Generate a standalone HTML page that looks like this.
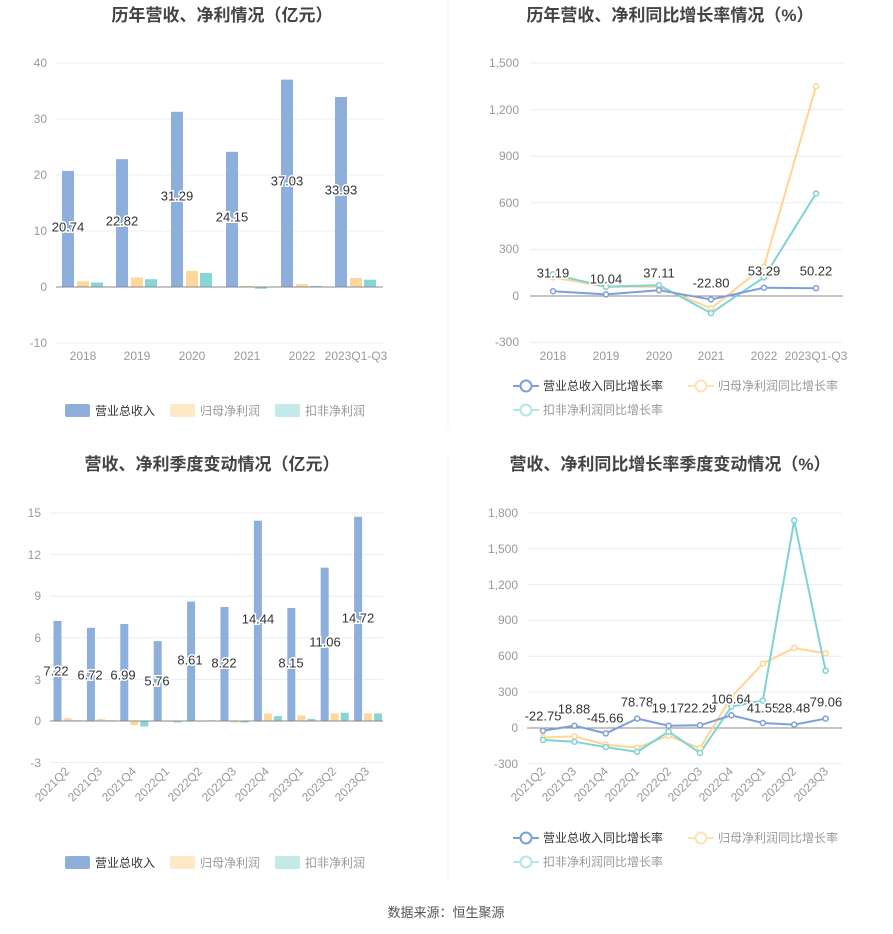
<!DOCTYPE html>
<html><head><meta charset="utf-8"><style>
body{margin:0;background:#fff;}
svg{display:block;font-family:"Liberation Sans","Noto Sans CJK SC",sans-serif;}
.t{font-size:17px;font-weight:bold;fill:#444;text-anchor:middle}
.ax{font-size:12px;fill:#999}
.g{stroke:#e8edf5;stroke-width:1}
.lb{font-size:13px;fill:#333;text-anchor:middle;stroke:#fff;stroke-width:3px;paint-order:stroke;dominant-baseline:middle}
.lg{font-size:12px;fill:#999}
</style></head><body>
<svg width="893" height="934" viewBox="0 0 893 934">
<line x1="448" y1="0" x2="448" y2="430" stroke="#f0f0f0"/>
<line x1="448" y1="455" x2="448" y2="880" stroke="#f0f0f0"/>
<!-- TL -->
<text class="t" x="222" y="21">历年营收、净利情况（亿元）</text>
<g class="g"><line x1="56" x2="383" y1="63" y2="63"/><line x1="56" x2="383" y1="119" y2="119"/><line x1="56" x2="383" y1="175" y2="175"/><line x1="56" x2="383" y1="231" y2="231"/><line x1="56" x2="383" y1="343" y2="343"/></g>
<g class="ax" text-anchor="end"><text x="47" y="67">40</text><text x="47" y="123">30</text><text x="47" y="179">20</text><text x="47" y="235">10</text><text x="47" y="291">0</text><text x="47" y="347">-10</text></g>
<g fill="#8eaedc"><rect x="62" y="170.9" width="12" height="116.1"/><rect x="116" y="159.2" width="12" height="127.8"/><rect x="171" y="111.8" width="12" height="175.2"/><rect x="226" y="151.8" width="12" height="135.2"/><rect x="281" y="79.6" width="12" height="207.4"/><rect x="335" y="97" width="12" height="190"/></g>
<g fill="#fdd89a"><rect x="77" y="281.4" width="12" height="5.6"/><rect x="131" y="277.5" width="12" height="9.5"/><rect x="186" y="270.8" width="12" height="16.2"/><rect x="241" y="285.9" width="12" height="1.1"/><rect x="296" y="284.2" width="12" height="2.8"/><rect x="350" y="278" width="12" height="9"/></g>
<g fill="#86d6d6"><rect x="91" y="282.5" width="12" height="4.5"/><rect x="145" y="279.2" width="12" height="7.8"/><rect x="200" y="273" width="12" height="14"/><rect x="255" y="287" width="12" height="1.7"/><rect x="310" y="285.9" width="12" height="1.1"/><rect x="364" y="279.7" width="12" height="7.3"/></g>
<line x1="56" x2="383" y1="287" y2="287" stroke="#888"/>
<g class="lb"><text x="68" y="228">20.74</text><text x="122" y="222">22.82</text><text x="177" y="197">31.29</text><text x="232" y="218">24.15</text><text x="287" y="182">37.03</text><text x="341" y="191">33.93</text></g>
<g class="ax" text-anchor="middle"><text x="83" y="360">2018</text><text x="137" y="360">2019</text><text x="192" y="360">2020</text><text x="247" y="360">2021</text><text x="302" y="360">2022</text><text x="356" y="360">2023Q1-Q3</text></g>
<rect x="65" y="404" width="25" height="13" rx="2" fill="#8eaedc"/><text class="lg" x="95" y="415" style="fill:#333">营业总收入</text>
<rect x="170" y="404" width="25" height="13" rx="2" fill="#fde9c8"/><text class="lg" x="200" y="415">归母净利润</text>
<rect x="275" y="404" width="25" height="13" rx="2" fill="#c3e9e9"/><text class="lg" x="305" y="415">扣非净利润</text>
<!-- TR -->
<text class="t" x="670" y="21">历年营收、净利同比增长率情况（%）</text>
<g class="g"><line x1="530" x2="843" y1="63" y2="63"/><line x1="530" x2="843" y1="109.6" y2="109.6"/><line x1="530" x2="843" y1="156.2" y2="156.2"/><line x1="530" x2="843" y1="202.8" y2="202.8"/><line x1="530" x2="843" y1="249.4" y2="249.4"/><line x1="530" x2="843" y1="342.6" y2="342.6"/></g>
<line x1="530" x2="843" y1="296" y2="296" stroke="#888"/>
<g class="ax" text-anchor="end"><text x="519" y="67">1,500</text><text x="519" y="114">1,200</text><text x="519" y="160">900</text><text x="519" y="207">600</text><text x="519" y="253">300</text><text x="519" y="300">0</text><text x="519" y="346">-300</text></g>
<polyline fill="none" stroke="#ffd591" stroke-width="2" points="553,277.4 606,286.7 659,286.7 711,308.4 764,266.5 816,86.3"/>
<polyline fill="none" stroke="#7dd3d5" stroke-width="2" points="553,274.3 606,286.7 659,285.1 711,313.1 764,277.4 816,193.5"/>
<polyline fill="none" stroke="#7f9fdc" stroke-width="2" points="553,291.2 606,294.4 659,290.2 711,299.5 764,287.7 816,288.2"/>
<g fill="#fff" stroke-width="1.5"><g stroke="#ffd591"><circle cx="553" cy="277.4" r="2.5"/><circle cx="606" cy="286.7" r="2.5"/><circle cx="659" cy="286.7" r="2.5"/><circle cx="711" cy="308.4" r="2.5"/><circle cx="764" cy="266.5" r="2.5"/><circle cx="816" cy="86.3" r="2.5"/></g>
<g stroke="#7dd3d5"><circle cx="553" cy="274.3" r="2.5"/><circle cx="606" cy="286.7" r="2.5"/><circle cx="659" cy="285.1" r="2.5"/><circle cx="711" cy="313.1" r="2.5"/><circle cx="764" cy="277.4" r="2.5"/><circle cx="816" cy="193.5" r="2.5"/></g>
<g stroke="#7f9fdc"><circle cx="553" cy="291.2" r="2.5"/><circle cx="606" cy="294.4" r="2.5"/><circle cx="659" cy="290.2" r="2.5"/><circle cx="711" cy="299.5" r="2.5"/><circle cx="764" cy="287.7" r="2.5"/><circle cx="816" cy="288.2" r="2.5"/></g></g>
<g class="lb"><text x="553" y="274">31.19</text><text x="606" y="280">10.04</text><text x="659" y="274">37.11</text><text x="711" y="284">-22.80</text><text x="764" y="272">53.29</text><text x="816" y="272">50.22</text></g>
<g class="ax" text-anchor="middle"><text x="553" y="360">2018</text><text x="606" y="360">2019</text><text x="659" y="360">2020</text><text x="711" y="360">2021</text><text x="764" y="360">2022</text><text x="816" y="360">2023Q1-Q3</text></g>
<g stroke-width="2" fill="#fff"><line x1="513" x2="539" y1="386" y2="386" stroke="#7f9fdc"/><circle cx="526" cy="386" r="5.5" stroke="#7f9fdc"/>
<line x1="688" x2="714" y1="386" y2="386" stroke="#fde2b5"/><circle cx="701" cy="386" r="5.5" stroke="#fde2b5"/>
<line x1="513" x2="539" y1="410" y2="410" stroke="#b5e6e6"/><circle cx="526" cy="410" r="5.5" stroke="#b5e6e6"/></g>
<text class="lg" x="543" y="390" style="fill:#333">营业总收入同比增长率</text><text class="lg" x="718" y="390">归母净利润同比增长率</text><text class="lg" x="543" y="414">扣非净利润同比增长率</text>
<!-- BL -->
<text class="t" x="212" y="470">营收、净利季度变动情况（亿元）</text>
<g class="g"><line x1="50" x2="383" y1="513" y2="513"/><line x1="50" x2="383" y1="554.6" y2="554.6"/><line x1="50" x2="383" y1="596.2" y2="596.2"/><line x1="50" x2="383" y1="637.8" y2="637.8"/><line x1="50" x2="383" y1="679.4" y2="679.4"/><line x1="50" x2="383" y1="762.6" y2="762.6"/></g>
<g class="ax" text-anchor="end"><text x="41" y="517">15</text><text x="41" y="559">12</text><text x="41" y="600">9</text><text x="41" y="642">6</text><text x="41" y="684">3</text><text x="41" y="725">0</text><text x="41" y="767">-3</text></g>
<g fill="#8eaedc"><rect x="53.5" y="620.9" width="8" height="100.1"/><rect x="86.9" y="627.8" width="8" height="93.2"/><rect x="120.3" y="624" width="8" height="97"/><rect x="153.7" y="641.1" width="8" height="79.9"/><rect x="187.1" y="601.6" width="8" height="119.4"/><rect x="220.5" y="607" width="8" height="114"/><rect x="253.9" y="520.7" width="8" height="200.3"/><rect x="287.3" y="608" width="8" height="113"/><rect x="320.7" y="567.6" width="8" height="153.4"/><rect x="354.1" y="516.8" width="8" height="204.2"/></g>
<g fill="#fdd89a"><rect x="63.5" y="718.2" width="8" height="2.8"/><rect x="96.9" y="718.9" width="8" height="2.1"/><rect x="130.3" y="721" width="8" height="4.2"/><rect x="163.7" y="721" width="8" height="0.7"/><rect x="197.1" y="721" width="8" height="0.7"/><rect x="230.5" y="721" width="8" height="1.4"/><rect x="263.9" y="713.4" width="8" height="7.6"/><rect x="297.3" y="715.5" width="8" height="5.5"/><rect x="330.7" y="713.4" width="8" height="7.6"/><rect x="364.1" y="713.4" width="8" height="7.6"/></g>
<g fill="#86d6d6"><rect x="73.5" y="720.3" width="8" height="0.7"/><rect x="106.9" y="720.3" width="8" height="0.7"/><rect x="140.3" y="721" width="8" height="5.5"/><rect x="173.7" y="721" width="8" height="1.4"/><rect x="207.1" y="720.3" width="8" height="0.7"/><rect x="240.5" y="721" width="8" height="1.4"/><rect x="273.9" y="716.1" width="8" height="4.9"/><rect x="307.3" y="718.9" width="8" height="2.1"/><rect x="340.7" y="712.7" width="8" height="8.3"/><rect x="374.1" y="713.4" width="8" height="7.6"/></g>
<line x1="50" x2="383" y1="721" y2="721" stroke="#888"/>
<g class="lb"><text x="56" y="672">7.22</text><text x="90" y="676">6.72</text><text x="123" y="676">6.99</text><text x="157" y="682">5.76</text><text x="190" y="661">8.61</text><text x="224" y="664">8.22</text><text x="258" y="620">14.44</text><text x="291" y="664">8.15</text><text x="325" y="643">11.06</text><text x="358" y="619">14.72</text></g>
<g class="ax" text-anchor="end">
<text transform="translate(70,772) rotate(-45)">2021Q2</text><text transform="translate(103,772) rotate(-45)">2021Q3</text><text transform="translate(137,772) rotate(-45)">2021Q4</text><text transform="translate(170,772) rotate(-45)">2022Q1</text><text transform="translate(203,772) rotate(-45)">2022Q2</text><text transform="translate(237,772) rotate(-45)">2022Q3</text><text transform="translate(270,772) rotate(-45)">2022Q4</text><text transform="translate(304,772) rotate(-45)">2023Q1</text><text transform="translate(337,772) rotate(-45)">2023Q2</text><text transform="translate(370,772) rotate(-45)">2023Q3</text></g>
<rect x="65" y="856" width="25" height="13" rx="2" fill="#8eaedc"/><text class="lg" x="95" y="867" style="fill:#333">营业总收入</text>
<rect x="170" y="856" width="25" height="13" rx="2" fill="#fde9c8"/><text class="lg" x="200" y="867">归母净利润</text>
<rect x="275" y="856" width="25" height="13" rx="2" fill="#c3e9e9"/><text class="lg" x="305" y="867">扣非净利润</text>
<!-- BR -->
<text class="t" x="670" y="470">营收、净利同比增长率季度变动情况（%）</text>
<g class="g"><line x1="527" x2="842" y1="513" y2="513"/><line x1="527" x2="842" y1="548.8" y2="548.8"/><line x1="527" x2="842" y1="584.6" y2="584.6"/><line x1="527" x2="842" y1="620.4" y2="620.4"/><line x1="527" x2="842" y1="656.2" y2="656.2"/><line x1="527" x2="842" y1="692" y2="692"/><line x1="527" x2="842" y1="763.6" y2="763.6"/></g>
<line x1="527" x2="842" y1="728" y2="728" stroke="#888"/>
<g class="ax" text-anchor="end"><text x="518" y="517">1,800</text><text x="518" y="553">1,500</text><text x="518" y="589">1,200</text><text x="518" y="624">900</text><text x="518" y="660">600</text><text x="518" y="696">300</text><text x="518" y="732">0</text><text x="518" y="768">-300</text></g>
<polyline fill="none" stroke="#ffd591" stroke-width="2" points="543,737.5 574.4,736.4 605.8,744.7 637.2,747.7 668.6,735.8 700,748.3 731.4,697 762.8,663.6 794.2,648 825.6,653.4"/>
<polyline fill="none" stroke="#7dd3d5" stroke-width="2" points="543,739.9 574.4,741.7 605.8,747.1 637.2,751.9 668.6,731.6 700,753 731.4,706.5 762.8,700.6 794.2,520.4 825.6,670.7"/>
<polyline fill="none" stroke="#7f9fdc" stroke-width="2" points="543,730.7 574.4,725.7 605.8,733.4 637.2,718.6 668.6,725.7 700,725.3 731.4,715.3 762.8,723 794.2,724.6 825.6,718.6"/>
<g fill="#fff" stroke-width="1.5"><g stroke="#ffd591"><circle cx="543" cy="737.5" r="2.5"/><circle cx="574.4" cy="736.4" r="2.5"/><circle cx="605.8" cy="744.7" r="2.5"/><circle cx="637.2" cy="747.7" r="2.5"/><circle cx="668.6" cy="735.8" r="2.5"/><circle cx="700" cy="748.3" r="2.5"/><circle cx="731.4" cy="697" r="2.5"/><circle cx="762.8" cy="663.6" r="2.5"/><circle cx="794.2" cy="648" r="2.5"/><circle cx="825.6" cy="653.4" r="2.5"/></g>
<g stroke="#7dd3d5"><circle cx="543" cy="739.9" r="2.5"/><circle cx="574.4" cy="741.7" r="2.5"/><circle cx="605.8" cy="747.1" r="2.5"/><circle cx="637.2" cy="751.9" r="2.5"/><circle cx="668.6" cy="731.6" r="2.5"/><circle cx="700" cy="753" r="2.5"/><circle cx="731.4" cy="706.5" r="2.5"/><circle cx="762.8" cy="700.6" r="2.5"/><circle cx="794.2" cy="520.4" r="2.5"/><circle cx="825.6" cy="670.7" r="2.5"/></g>
<g stroke="#7f9fdc"><circle cx="543" cy="730.7" r="2.5"/><circle cx="574.4" cy="725.7" r="2.5"/><circle cx="605.8" cy="733.4" r="2.5"/><circle cx="637.2" cy="718.6" r="2.5"/><circle cx="668.6" cy="725.7" r="2.5"/><circle cx="700" cy="725.3" r="2.5"/><circle cx="731.4" cy="715.3" r="2.5"/><circle cx="762.8" cy="723" r="2.5"/><circle cx="794.2" cy="724.6" r="2.5"/><circle cx="825.6" cy="718.6" r="2.5"/></g></g>
<g class="lb"><text x="543" y="717">-22.75</text><text x="574" y="710">18.88</text><text x="605" y="719">-45.66</text><text x="637" y="703">78.78</text><text x="668" y="709">19.17</text><text x="700" y="709">22.29</text><text x="731" y="700">106.64</text><text x="763" y="709">41.55</text><text x="794" y="709">28.48</text><text x="826" y="703">79.06</text></g>
<g class="ax" text-anchor="end">
<text transform="translate(546,772) rotate(-45)">2021Q2</text><text transform="translate(577,772) rotate(-45)">2021Q3</text><text transform="translate(609,772) rotate(-45)">2021Q4</text><text transform="translate(640,772) rotate(-45)">2022Q1</text><text transform="translate(672,772) rotate(-45)">2022Q2</text><text transform="translate(703,772) rotate(-45)">2022Q3</text><text transform="translate(734,772) rotate(-45)">2022Q4</text><text transform="translate(766,772) rotate(-45)">2023Q1</text><text transform="translate(797,772) rotate(-45)">2023Q2</text><text transform="translate(829,772) rotate(-45)">2023Q3</text></g>
<g stroke-width="2" fill="#fff"><line x1="513" x2="539" y1="838" y2="838" stroke="#7f9fdc"/><circle cx="526" cy="838" r="5.5" stroke="#7f9fdc"/>
<line x1="688" x2="714" y1="838" y2="838" stroke="#fde2b5"/><circle cx="701" cy="838" r="5.5" stroke="#fde2b5"/>
<line x1="513" x2="539" y1="862" y2="862" stroke="#b5e6e6"/><circle cx="526" cy="862" r="5.5" stroke="#b5e6e6"/></g>
<text class="lg" x="543" y="842" style="fill:#333">营业总收入同比增长率</text><text class="lg" x="718" y="842">归母净利润同比增长率</text><text class="lg" x="543" y="866">扣非净利润同比增长率</text>
<text x="446" y="917" text-anchor="middle" style="font-size:13px;fill:#555">数据来源：恒生聚源</text>
</svg>
</body></html>
